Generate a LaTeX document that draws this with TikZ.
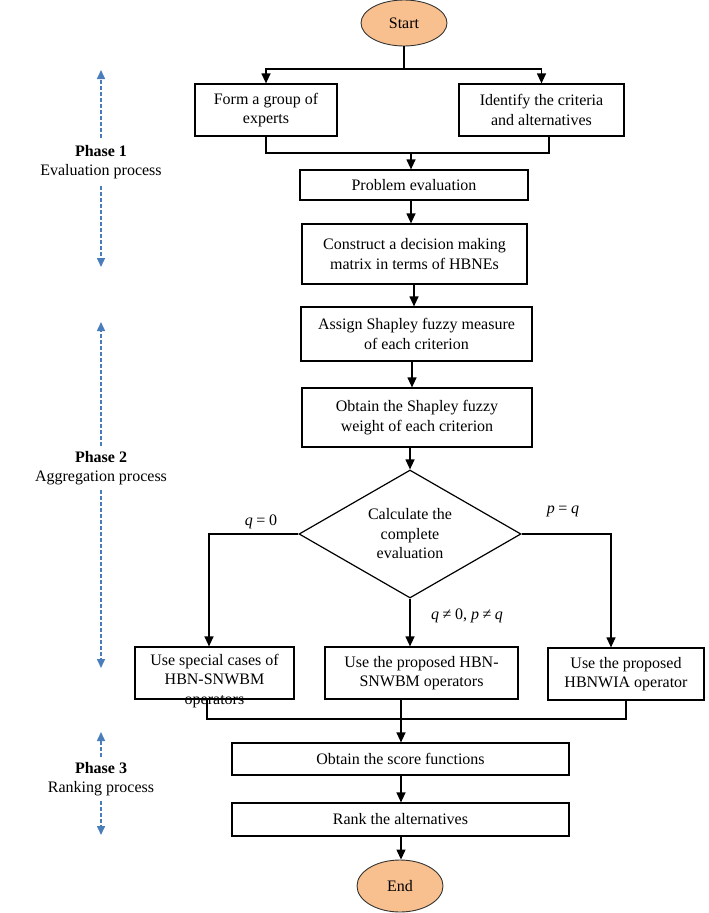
\documentclass[tikz,border=0pt]{standalone}
\usepackage{fontspec}
\setmainfont{Liberation Serif}
\usetikzlibrary{shapes.geometric,arrows.meta}
\definecolor{peach}{HTML}{F9C08F}
\definecolor{phaseblue}{HTML}{4A7EBB}
\newcommand{\eqsp}{\hspace{0.22em}}
\begin{document}
\begin{tikzpicture}[x=1pt,y=-1pt,
  font=\fontsize{16}{19.5}\selectfont,
  box/.style={draw, line width=1.2pt, inner sep=0pt, align=center},
  ln/.style={line width=1.2pt},
  arr/.style={line width=1.2pt, -{Triangle[width=9pt,length=10pt]}},
  term/.style={ellipse, draw=black!80, fill=peach, line width=0.9pt, inner sep=0pt},
  phase/.style={draw=phaseblue, line width=1.5pt, dash pattern=on 4pt off 2pt, -{Triangle[width=8pt,length=9pt]}},
  plabel/.style={align=center, inner sep=0pt}]
\useasboundingbox (0,0) rectangle (709,913);

% terminals
\node[term, minimum width=86pt, minimum height=46pt] (start) at (404,23) {Start};
\node[term, minimum width=86pt, minimum height=52pt] (end) at (400,886) {End};

% boxes
\node[box, minimum width=142pt, minimum height=52pt] (form) at (266,110) {Form a group of\\experts};
\node[box, minimum width=165pt, minimum height=52pt] (ident) at (541.5,110) {Identify the criteria\\and alternatives};
\node[box, minimum width=228pt, minimum height=30pt] (prob) at (414,185) {Problem evaluation};
\node[box, minimum width=225pt, minimum height=60pt] (cons) at (414.5,254) {Construct a decision making\\matrix in terms of HBNEs};
\node[box, minimum width=231pt, minimum height=54pt] (assign) at (416.5,334) {Assign Shapley fuzzy measure\\of each criterion};
\node[box, minimum width=230pt, minimum height=59pt] (obtain) at (417,417.5) {Obtain the Shapley fuzzy\\weight of each criterion};
\node[draw, diamond, line width=1.2pt, minimum width=222pt, minimum height=128pt, inner sep=0pt, aspect=1.73, align=center] (dia) at (410,534) {Calculate the\\complete\\evaluation};

\node[box, minimum width=159pt, minimum height=52pt] (leftbox) at (214.5,673) {};
\node[align=center, inner sep=0pt] (lefttxt) at (214.5,681) {Use special cases of\\HBN-SNWBM\\operators};
\node[box, minimum width=193pt, minimum height=52pt] (midbox) at (421.5,673) {Use the proposed HBN-\\SNWBM operators};
\node[box, minimum width=156pt, minimum height=52pt] (rightbox) at (626,674) {Use the proposed\\HBNWIA operator};

\node[box, minimum width=337pt, minimum height=32pt] (score) at (400.5,759) {Obtain the score functions};
\node[box, minimum width=337pt, minimum height=33pt] (rank) at (400.5,819.5) {Rank the alternatives};

% branch labels
\node (lq0) at (261,522) {\textit{q}\eqsp=\eqsp0};
\node (lpq) at (563,511) {\textit{p}\eqsp=\eqsp\textit{q}};
\node (lqp) at (467,616) {\textit{q}\eqsp≠\eqsp0, \textit{p}\eqsp≠\eqsp\textit{q}};

% connectors
\coordinate (j1) at (404,69);
\draw[ln] (start.south) -- (j1);
\draw[arr] (j1) -| (form.north);
\draw[arr] (j1) -| (ident.north);

\coordinate (j2) at (411,153);
\draw[ln] (form.south) |- (j2);
\draw[ln] ([xshift=7.5pt]ident.south) |- (j2);
\draw[arr] (j2) -- (j2 |- prob.north);

\draw[arr] ([xshift=-3pt]prob.south) -- ([xshift=-3pt]prob.south |- cons.north);
\draw[arr] ([xshift=-0.5pt]cons.south) -- ([xshift=-0.5pt]cons.south |- assign.north);
\draw[arr] ([xshift=-4.5pt]assign.south) -- ([xshift=-4.5pt]assign.south |- obtain.north);
\draw[arr] (dia.north |- obtain.south) -- (dia.north);

\draw[arr] (dia.west) -| ([xshift=-5.5pt]leftbox.north);
\draw[arr] (dia.south) -- (dia.south |- midbox.north);
\draw[arr] (dia.east) -| ([xshift=-15pt]rightbox.north);

\coordinate (j3) at (401,719);
\draw[ln] ([xshift=-7.5pt]leftbox.south) |- (j3);
\draw[ln] (rightbox.south) |- (j3);
\draw[ln] (j3 |- midbox.south) -- (j3);
\draw[arr] (j3) -- (j3 |- score.north);
\draw[arr] (score.south -| j3) -- (j3 |- rank.north);
\draw[arr] (rank.south -| j3) -- (end.north -| j3);

% phases
\node[plabel, outer ysep=7pt] (ph1) at (101,162) {\textbf{Phase 1}\\Evaluation process};
\coordinate (ph1t) at (101,70);
\coordinate (ph1b) at (101,267);
\draw[phase] (ph1.north) -- (ph1t);
\draw[phase] (ph1.south) -- (ph1b);

\node[plabel, outer ysep=5pt] (ph2) at (101,468) {\textbf{Phase 2}\\Aggregation process};
\coordinate (ph2t) at (101,322);
\coordinate (ph2b) at (101,668);
\draw[phase] (ph2.north) -- (ph2t);
\draw[phase] (ph2.south) -- (ph2b);

\node[plabel, outer ysep=5pt] (ph3) at (101,779) {\textbf{Phase 3}\\Ranking process};
\coordinate (ph3t) at (101,732);
\coordinate (ph3b) at (101,835);
\draw[phase] (ph3.north) -- (ph3t);
\draw[phase] (ph3.south) -- (ph3b);
\end{tikzpicture}
\end{document}
